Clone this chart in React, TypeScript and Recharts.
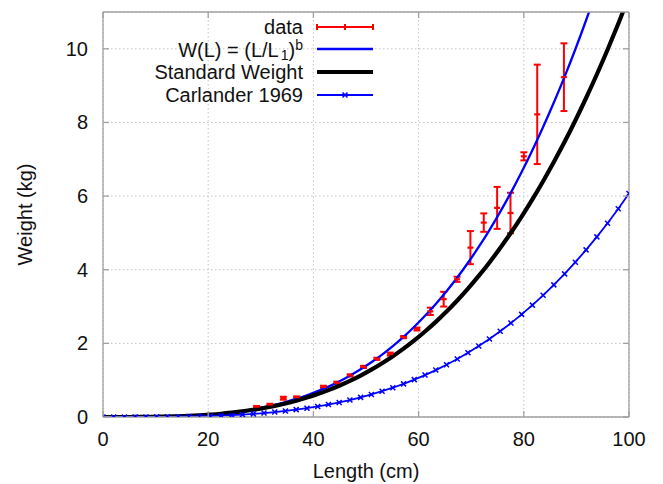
import { ComposedChart, Line, Scatter, ErrorBar, XAxis, YAxis, CartesianGrid } from "recharts";

const FONT = '"Liberation Sans", Arial, sans-serif';
const FRAME = "#a0a0a0";

const xTicks = [0, 20, 40, 60, 80, 100];
const yTicks = [0, 2, 4, 6, 8, 10];

// sample lengths (cm) used by the three curves
const curveLength = [
  0, 2.04, 4.08, 6.12, 8.16, 10.2, 12.24, 14.29, 16.33, 18.37, 20.41, 22.45, 24.49, 26.53, 28.57, 30.61,
  32.65, 34.69, 36.73, 38.78, 40.82, 42.86, 44.9, 46.94, 48.98, 51.02, 53.06, 55.1, 57.14, 59.18, 61.22,
  63.27, 65.31, 67.35, 69.39, 71.43, 73.47, 75.51, 77.55, 79.59, 81.63, 83.67, 85.71, 87.76, 89.8, 91.84,
  93.88, 95.92, 97.96, 100,
];

// W(L) = (L/L1)^b
const fitWeight = [
  0, 0, 0, 0.001, 0.003, 0.007, 0.012, 0.02, 0.032, 0.048, 0.068, 0.093, 0.125, 0.164, 0.211, 0.266, 0.33,
  0.405, 0.491, 0.589, 0.701, 0.826, 0.966, 1.122, 1.295, 1.486, 1.696, 1.926, 2.177, 2.451, 2.748, 3.069,
  3.414, 3.788, 4.19, 4.618, 5.078, 5.57, 6.094, 6.652, 7.244, 7.874, 8.54, 9.243, 9.988, 10.776, 11.601,
  12.473, 13.39, 14.352,
];

// Standard Weight
const standardWeight = [
  0, 0, 0, 0.001, 0.003, 0.007, 0.013, 0.021, 0.032, 0.047, 0.066, 0.089, 0.119, 0.154, 0.196, 0.245,
  0.302, 0.368, 0.443, 0.527, 0.623, 0.73, 0.849, 0.981, 1.126, 1.285, 1.46, 1.65, 1.857, 2.081, 2.323,
  2.584, 2.864, 3.165, 3.487, 3.831, 4.198, 4.588, 5.004, 5.444, 5.91, 6.404, 6.925, 7.474, 8.054, 8.664,
  9.302, 9.974, 10.681, 11.42,
];

// Carlander 1969
const carlanderWeight = [
  0, 0, 0, 0, 0.001, 0.003, 0.005, 0.008, 0.013, 0.019, 0.027, 0.037, 0.05, 0.066, 0.085, 0.107, 0.134,
  0.164, 0.2, 0.24, 0.286, 0.338, 0.396, 0.461, 0.533, 0.612, 0.7, 0.795, 0.9, 1.015, 1.139, 1.274, 1.419,
  1.577, 1.746, 1.927, 2.121, 2.329, 2.551, 2.787, 3.038, 3.305, 3.589, 3.888, 4.205, 4.54, 4.892, 5.264,
  5.657, 6.07,
];

// measured data with error
const dataLength = [
  29.21, 31.75, 34.29, 36.83, 41.91, 44.45, 46.99, 49.53, 52.07, 54.61, 57.15, 59.69, 62.23, 64.77, 67.31,
  69.85, 72.39, 74.93, 77.47, 80.01, 82.55, 87.63,
];
const dataWeight = [
  0.28, 0.34, 0.51, 0.54, 0.82, 0.93, 1.13, 1.36, 1.58, 1.71, 2.17, 2.39, 2.87, 3.2, 3.74, 4.6, 5.28, 5.68,
  5.54, 7.08, 8.22, 9.23,
];
const dataError = [
  0.02, 0.02, 0.04, 0.02, 0.03, 0.03, 0.03, 0.03, 0.03, 0.04, 0.03, 0.04, 0.1, 0.2, 0.07, 0.45, 0.25, 0.57,
  0.55, 0.11, 1.35, 0.92,
];

const fitData = curveLength.map((L, i) => ({ L, W: fitWeight[i] }));
const standardData = curveLength.map((L, i) => ({ L, W: standardWeight[i] }));
const carlanderData = curveLength.map((L, i) => ({ L, W: carlanderWeight[i] }));
const measured = dataLength.map((L, i) => ({ L, W: dataWeight[i], err: dataError[i] }));

const textStyle = { fontFamily: FONT, fontSize: 20, fill: "#111" };

function BottomTick({ x, y, payload }: any) {
  return (
    <g>
      <line x1={x} x2={x} y1={y} y2={y - 6} stroke={FRAME} strokeWidth={1.3} />
      <text x={x} y={y + 29} textAnchor="middle" {...textStyle}>
        {payload.value}
      </text>
    </g>
  );
}

function TopTick({ x, y }: any) {
  return <line x1={x} x2={x} y1={y} y2={y + 6} stroke={FRAME} strokeWidth={1.3} />;
}

function LeftTick({ x, y, payload }: any) {
  return (
    <g>
      <line x1={x} x2={x + 6} y1={y} y2={y} stroke={FRAME} strokeWidth={1.3} />
      <text x={x - 15} y={y + 7} textAnchor="end" {...textStyle}>
        {payload.value}
      </text>
    </g>
  );
}

function RightTick({ x, y }: any) {
  return <line x1={x} x2={x - 6} y1={y} y2={y} stroke={FRAME} strokeWidth={1.3} />;
}

function CenterMark({ cx, cy }: any) {
  return <line x1={cx - 3} x2={cx + 3} y1={cy} y2={cy} stroke="#ff0000" strokeWidth={2.2} />;
}

function CrossDot({ cx, cy, index }: any) {
  const s = 2.5;
  return (
    <path
      key={`c-${index}`}
      d={`M${cx - s},${cy - s}L${cx + s},${cy + s}M${cx - s},${cy + s}L${cx + s},${cy - s}`}
      stroke="#0000ff"
      strokeWidth={1.5}
      fill="none"
    />
  );
}

function KeyBox() {
  const x0 = 317;
  const x1 = 373;
  const mid = 345;
  return (
    <svg
      width={663}
      height={484}
      style={{ position: "absolute", left: 0, top: 0, pointerEvents: "none" }}
    >
      <g {...textStyle}>
        <text x={303} y={34} textAnchor="end">data</text>
        <text x={303} y={57} textAnchor="end">
          W(L) = (L/L
          <tspan fontSize={14} dy={3} dx={2}>1</tspan>
          <tspan dy={-3}>)</tspan>
          <tspan fontSize={14} dy={-7}>b</tspan>
        </text>
        <text x={303} y={79} textAnchor="end">Standard Weight</text>
        <text x={303} y={102} textAnchor="end">Carlander 1969</text>
      </g>
      <g stroke="#ff0000" strokeWidth={2}>
        <line x1={x0} x2={x1} y1={27} y2={27} />
        <line x1={x0} x2={x0} y1={24} y2={30} />
        <line x1={x1} x2={x1} y1={24} y2={30} />
        <line x1={mid} x2={mid} y1={24} y2={30} />
      </g>
      <line x1={x0} x2={x1} y1={49} y2={49} stroke="#0000ff" strokeWidth={2.3} />
      <line x1={x0} x2={x1} y1={72} y2={72} stroke="#000" strokeWidth={4} />
      <line x1={x0} x2={x1} y1={95} y2={95} stroke="#0000ff" strokeWidth={1.8} />
      <CrossDot cx={mid} cy={95} index={0} />
    </svg>
  );
}

export default function App() {
  return (
    <div style={{ position: "absolute", left: 0, top: 0, width: 663, height: 484, background: "#fff" }}>
      <ComposedChart width={663} height={484} margin={{ top: 0, right: 0, bottom: 0, left: 0 }}>
        <CartesianGrid stroke="#c4c4c4" strokeDasharray="1.5 2.5" horizontal vertical />
        <XAxis
          dataKey="L"
          type="number"
          domain={[0, 100]}
          ticks={xTicks}
          allowDataOverflow
          height={67}
          tickSize={0}
          tickMargin={0}
          tickLine={false}
          axisLine={{ stroke: FRAME, strokeWidth: 1.3 }}
          tick={<BottomTick />}
          label={{ value: "Length (cm)", position: "insideBottom", offset: 6, ...textStyle }}
        />
        <XAxis
          xAxisId="top"
          orientation="top"
          dataKey="L"
          type="number"
          domain={[0, 100]}
          ticks={xTicks}
          allowDataOverflow
          height={12}
          tickSize={0}
          tickMargin={0}
          tickLine={false}
          axisLine={{ stroke: FRAME, strokeWidth: 1.3 }}
          tick={<TopTick />}
        />
        <YAxis
          dataKey="W"
          type="number"
          domain={[0, 11]}
          ticks={yTicks}
          allowDataOverflow
          width={103}
          tickSize={0}
          tickMargin={0}
          tickLine={false}
          axisLine={{ stroke: FRAME, strokeWidth: 1.3 }}
          tick={<LeftTick />}
          label={{
            value: "Weight (kg)",
            angle: -90,
            position: "insideLeft",
            offset: 25,
            style: { textAnchor: "middle" },
            ...textStyle,
          }}
        />
        <YAxis
          yAxisId="right"
          orientation="right"
          dataKey="W"
          type="number"
          domain={[0, 11]}
          ticks={yTicks}
          allowDataOverflow
          width={34}
          tickSize={0}
          tickMargin={0}
          tickLine={false}
          axisLine={{ stroke: FRAME, strokeWidth: 1.3 }}
          tick={<RightTick />}
        />
        <Scatter data={measured} dataKey="W" shape={<CenterMark />} isAnimationActive={false}>
          <ErrorBar dataKey="err" direction="y" width={3.5} stroke="#ff0000" strokeWidth={2} isAnimationActive={false} />
        </Scatter>
        <Line
          data={fitData}
          dataKey="W"
          type="monotone"
          stroke="#0000ff"
          strokeWidth={2.3}
          dot={false}
          isAnimationActive={false}
        />
        <Line
          data={standardData}
          dataKey="W"
          type="monotone"
          stroke="#000000"
          strokeWidth={4.2}
          dot={false}
          isAnimationActive={false}
        />
        <Line
          data={carlanderData}
          dataKey="W"
          type="linear"
          stroke="#0000ff"
          strokeWidth={1.8}
          dot={<CrossDot />}
          isAnimationActive={false}
        />
      </ComposedChart>
      <KeyBox />
    </div>
  );
}
